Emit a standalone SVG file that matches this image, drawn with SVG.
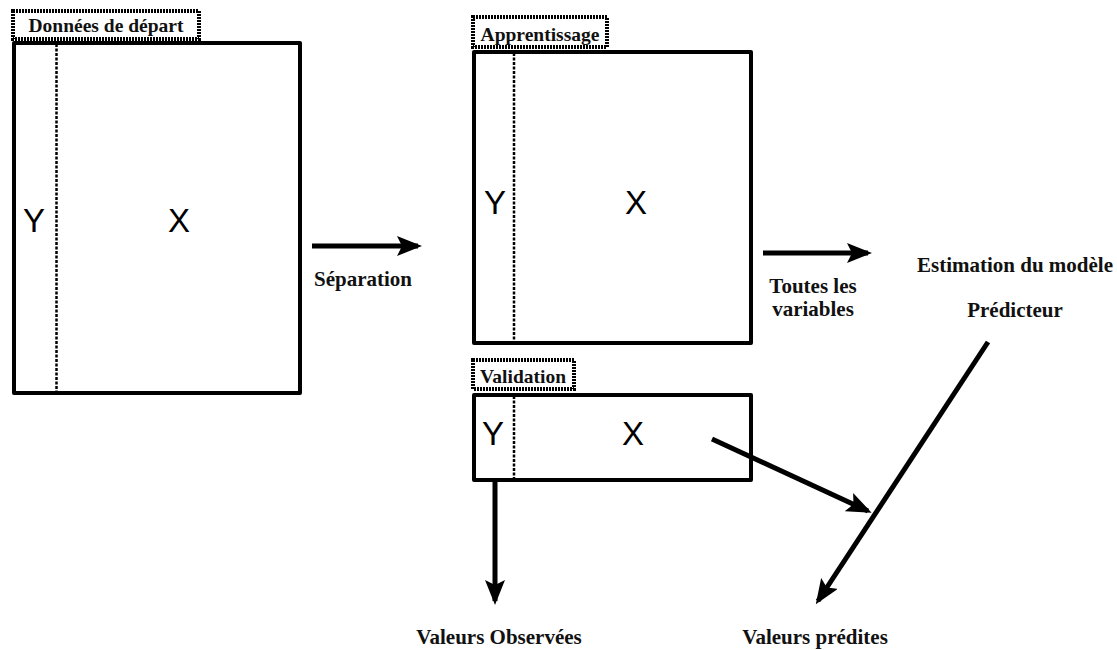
<svg xmlns="http://www.w3.org/2000/svg" width="1117" height="650" viewBox="0 0 1117 650">
<style>
.box{fill:none;stroke:#000;stroke-width:4;stroke-linejoin:round}
.sep{stroke:#000;stroke-width:2.5;stroke-dasharray:3,1.5}
.lab{fill:#fff;stroke:#000;stroke-width:4;stroke-dasharray:2,1}
.t{font-family:"Liberation Serif",serif;font-weight:bold;font-size:21px;fill:#111}
.l{font-size:19.5px}
.big{font-family:"Liberation Sans",sans-serif;font-size:33px;fill:#000}
.c{stroke:#000;stroke-width:5;fill:none}
</style>
<defs>
<marker id="ah" markerWidth="5" markerHeight="4" refX="4.2" refY="2" orient="auto" markerUnits="strokeWidth">
<path d="M0,0 L5,2 L0,4 L1,2 Z" fill="#000"/>
</marker>
</defs>
<g id="depart">
<rect class="box" x="14" y="43" width="286" height="350"/>
<line class="sep" x1="56.5" y1="44" x2="56.5" y2="392"/>
<text class="big" x="34" y="232" text-anchor="middle">Y</text>
<text class="big" x="179" y="232" text-anchor="middle">X</text>
<rect class="lab" x="13" y="11" width="186" height="28"/>
<text class="t l" x="106" y="32" text-anchor="middle">Données de départ</text>
</g>
<g id="apprentissage">
<rect class="box" x="474" y="52" width="277" height="291"/>
<line class="sep" x1="514" y1="53" x2="514" y2="342"/>
<text class="big" x="495" y="214" text-anchor="middle">Y</text>
<text class="big" x="636" y="214" text-anchor="middle">X</text>
<rect class="lab" x="473" y="17" width="134" height="30"/>
<text class="t l" x="540" y="41" text-anchor="middle">Apprentissage</text>
</g>
<g id="validation">
<rect class="box" x="474" y="395" width="277" height="85"/>
<line class="sep" x1="514" y1="396" x2="514" y2="479"/>
<text class="big" x="493" y="445" text-anchor="middle">Y</text>
<text class="big" x="633" y="445" text-anchor="middle">X</text>
<rect class="lab" x="473" y="360" width="101" height="29"/>
<text class="t l" x="523" y="383" text-anchor="middle">Validation</text>
</g>
<g id="estimation">
<text class="t" x="1015" y="272" text-anchor="middle">Estimation du modèle</text>
<text class="t" x="1015" y="317" text-anchor="middle">Prédicteur</text>
</g>
<g id="observees">
<text class="t" x="499" y="644" text-anchor="middle">Valeurs Observées</text>
</g>
<g id="predites">
<text class="t" x="815" y="644" text-anchor="middle">Valeurs prédites</text>
</g>
<g id="connectors">
<line class="c" x1="312" y1="246" x2="418" y2="246" marker-end="url(#ah)"/>
<text class="t" x="363" y="286" text-anchor="middle">Séparation</text>
<line class="c" x1="763" y1="253" x2="868" y2="253" marker-end="url(#ah)"/>
<text class="t" x="813" y="293" text-anchor="middle">Toutes les</text>
<text class="t" x="813" y="316" text-anchor="middle">variables</text>
<line class="c" x1="495" y1="482" x2="495" y2="601" marker-end="url(#ah)"/>
<line class="c" x1="712" y1="439" x2="868" y2="511" marker-end="url(#ah)"/>
<line class="c" x1="988" y1="342" x2="818" y2="601" marker-end="url(#ah)"/>
</g>
</svg>
